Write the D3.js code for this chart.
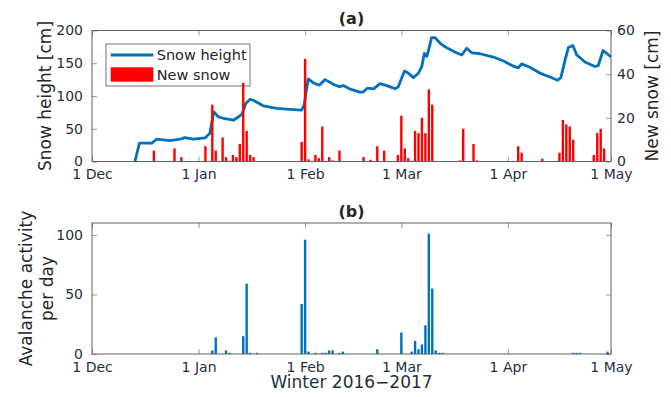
<!DOCTYPE html>
<html>
<head>
<meta charset="utf-8">
<script src="https://cdn.jsdelivr.net/npm/d3@7/dist/d3.min.js"></script>
<style>body{margin:0;background:#fff}</style>
</head>
<body>
<div id="chart"></div>
<script>
// all days are counted from 1 Dec 2016 (= day 0)
var snowDays=[12.5,13.8,17.4,18.8,22.7,25.6,27,29.5,32.9,34.3,35.4,36.8,38.2,41.1,42.6,43.6,44.8,46,46.9,49.8,53.7,57.6,61,61.7,62.9,64.4,66.1,67.8,70.2,72,73.1,75.1,78,78.9,80.1,81.9,83.8,86.2,88.2,89.1,90.9,92,93.5,95,95.9,96.7,97.4,97.9,98.8,99.8,101.3,103.2,105.6,107.6,109,110.5,112.9,116.8,119.7,122.6,124,125,127.4,130.3,133.2,135.5,136.4,137.6,138.6,139.9,141,143.4,146.3,147.3,148.7,149.9,151];
var snowHeight=[0,28,28,34,32,34,36.5,34,36,43,76,68,66,63,68,72,89,95,93.5,85,81,79.5,78.5,86,126,120,116.5,125,118,114,116,110.5,106,106,112,111,119,115,111,114,138,135,128,135,144,165,160.5,169.5,189,189,180.5,173.5,167,162.5,173,166,164.5,159.5,153.5,145.5,143,149,144,135,129,124,128,154,174,177,163,152,145,146.5,169.5,164.5,159.5];

var newSnowDays=[18,24,26,33,35,36,38,39,41,42,43,44,45,46,47,61,62,63,65,66,67,69,70,72,79,81,83,85,89,90,91,92,94,95,96,97,98,99,107,108,111,112,124,125,131,136,137,138,139,140,146,147,148,149];
var newSnowCm=[5,6,2,7,26,5,11,2,3,2,8,36,14,3,2,9,47,1,3,1.5,16,2,0.5,5,2,0.8,7,5,3,21,6,1.5,14,13,20,13,33,26,0.5,15,8,0.5,7,4,1.3,4,19,17,16,10,3,13,15,6];

var avDays=[35,36,39,40,44,45,46,48,61,62,63,65,67,68,69,70,72,73,83,90,93,94,95,96,97,98,99,100,101,102,140,141,142,150];
var avCount=[3,14,3,1,15,59,1,1,42,96,2,1,1,1,3,3,1,2,4,18,2,11,4,8,24,101,55,3,1,1,1,1,1,2];

var monthDays=[0,31,62,90,121,151];
var monthLabels=['1 Dec','1 Jan','1 Feb','1 Mar','1 Apr','1 May'];
var hsTicks=[0,50,100,150,200];
var hnTicks=[0,20,40,60];
var avTicks=[0,50,100];

var W=671,H=397,
	L=92,R=611,
	top1=30.5,bot1=161.5,
	top2=223,bot2=354,
	TXT='#262626',
	TICK='#1f2f40',	//tick labels look slightly bluish
	BLUE='#0072BD',
	RED='#FF0000',
	barW=2.4,
	t0=Date.UTC(2016,11,1);

function toDate(d){ return new Date(t0+d*864e5) }

var svg=d3.select('#chart').append('svg')
	.attr('width',W).attr('height',H)
	.attr('font-family','DejaVu Sans');

var x=d3.scaleUtc().domain([toDate(0),toDate(151)]).range([L,R]);
var yHs=d3.scaleLinear().domain([0,200]).range([bot1,top1]);
var yHn=d3.scaleLinear().domain([0,60]).range([bot1,top1]);
var yAv=d3.scaleLinear().domain([0,110]).range([bot2,top2]);
var monthDates=monthDays.map(toDate);

// axis helper: inward ticks, no domain line
function axis(g,gen,fs){
	g.call(gen);
	g.select('.domain').remove();
	g.attr('font-size',fs).attr('font-family','DejaVu Sans');
	g.selectAll('line').attr('stroke','#9a9a9a');
	g.selectAll('text').attr('fill',TICK);
}

function frame(top,bot,yL,ticksL,yR,ticksR){
	axis(svg.append('g').attr('transform','translate(0,'+bot+')'),
		d3.axisBottom(x).tickValues(monthDates).tickSize(-5).tickPadding(8)
			.tickFormat(function(d,i){ return monthLabels[i] }),14);
	axis(svg.append('g').attr('transform','translate(0,'+top+')'),
		d3.axisTop(x).tickValues(monthDates).tickSize(-5).tickFormat(''),14);
	axis(svg.append('g').attr('transform','translate('+L+',0)'),
		d3.axisLeft(yL).tickValues(ticksL).tickSize(-5).tickPadding(9),14);
	var gr=d3.axisRight(yR).tickValues(ticksR).tickSize(-5).tickPadding(6);
	if(yR===yL) gr.tickFormat('');
	axis(svg.append('g').attr('transform','translate('+R+',0)'),gr,14);
}

/* ---- (a) snow height + new snow ---- */
frame(top1,bot1,yHs,hsTicks,yHn,hnTicks);

// legend box sits under the bars (tall bar pokes into it)
svg.append('rect').attr('x',106).attr('y',44).attr('width',144).attr('height',42)
	.attr('fill','#fff').attr('stroke','#505050').attr('stroke-width',0.8);

svg.append('path')
	.datum(snowDays.map(function(d,i){ return [d,snowHeight[i]] }))
	.attr('d',d3.line().x(function(d){ return x(toDate(d[0])) }).y(function(d){ return yHs(d[1]) }))
	.attr('fill','none').attr('stroke',BLUE).attr('stroke-width',2.8)
	.attr('stroke-linejoin','round');

svg.append('g').selectAll('rect')
	.data(newSnowDays).enter().append('rect')
	.attr('x',function(d){ return x(toDate(d))-barW/2 })
	.attr('width',barW)
	.attr('y',function(d,i){ return yHn(newSnowCm[i]) })
	.attr('height',function(d,i){ return bot1-yHn(newSnowCm[i]) })
	.attr('fill',RED);

var lg=svg.append('g');
lg.append('line').attr('x1',110.7).attr('x2',153.3).attr('y1',55).attr('y2',55)
	.attr('stroke',BLUE).attr('stroke-width',2.8);
lg.append('rect').attr('x',110.7).attr('y',67.3).attr('width',42.6).attr('height',14.4).attr('fill',RED);
lg.append('text').attr('x',156.7).attr('y',55).attr('dy','0.36em').attr('font-size',14.5).attr('fill',TXT).text('Snow height');
lg.append('text').attr('x',156.7).attr('y',74.5).attr('dy','0.36em').attr('font-size',14.5).attr('fill',TXT).text('New snow');

// box
svg.append('rect').attr('x',L).attr('y',top1).attr('width',R-L).attr('height',bot1-top1)
	.attr('fill','none').attr('stroke','#606060').attr('stroke-width',1);

svg.append('text').attr('x',(L+R)/2).attr('y',24).attr('text-anchor','middle')
	.attr('font-size',16).attr('font-weight','bold').attr('fill',TXT).text('(a)');
svg.append('text').attr('transform','translate(51,'+(top1+bot1)/2+') rotate(-90)')
	.attr('text-anchor','middle').attr('font-size',17).attr('fill',TXT).text('Snow height [cm]');
svg.append('text').attr('transform','translate(658,'+(top1+bot1)/2+') rotate(-90)')
	.attr('text-anchor','middle').attr('font-size',17).attr('fill',TXT).text('New snow [cm]');

/* ---- (b) avalanche activity ---- */
frame(top2,bot2,yAv,avTicks,yAv,avTicks);

svg.append('g').selectAll('rect')
	.data(avDays).enter().append('rect')
	.attr('x',function(d){ return x(toDate(d))-barW/2 })
	.attr('width',barW)
	.attr('y',function(d,i){ return yAv(avCount[i]) })
	.attr('height',function(d,i){ return bot2-yAv(avCount[i]) })
	.attr('fill',BLUE);

svg.append('rect').attr('x',L).attr('y',top2).attr('width',R-L).attr('height',bot2-top2)
	.attr('fill','none').attr('stroke','#606060').attr('stroke-width',1);

svg.append('text').attr('x',(L+R)/2).attr('y',217).attr('text-anchor','middle')
	.attr('font-size',16).attr('font-weight','bold').attr('fill',TXT).text('(b)');
var yl=svg.append('text').attr('transform','translate(0,'+(top2+bot2)/2+') rotate(-90)')
	.attr('text-anchor','middle').attr('font-size',17).attr('fill',TXT);
yl.append('tspan').attr('x',0).attr('y',32).text('Avalanche activity');
yl.append('tspan').attr('x',0).attr('y',53).text('per day');
svg.append('text').attr('x',(L+R)/2).attr('y',388).attr('text-anchor','middle')
	.attr('font-size',17).attr('fill',TICK).text('Winter 2016\u22122017');
</script>
</body>
</html>
